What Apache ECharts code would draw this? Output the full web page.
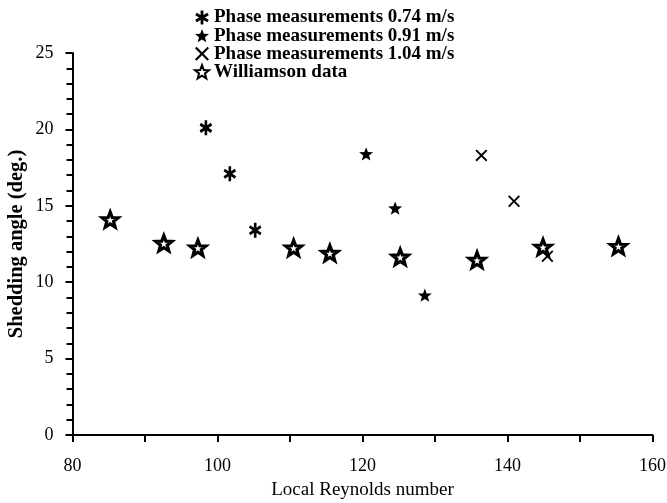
<!DOCTYPE html>
<html>
<head>
<meta charset="utf-8">
<script src="https://cdn.jsdelivr.net/npm/echarts@6/dist/echarts.min.js"></script>
<style>html,body{margin:0;padding:0;background:#fff}#c{width:667px;height:503px}</style>
</head>
<body>
<div id="c"></div>
<script>
// Data
var seriesNames = ['Phase measurements 0.74 m/s', 'Phase measurements 0.91 m/s', 'Phase measurements 1.04 m/s', 'Williamson data'];
var phase074 = [[98.4, 20.1], [101.7, 17.1], [105.2, 13.4]];
var phase091 = [[120.5, 18.4], [124.5, 14.85], [128.6, 9.15]];
var phase104 = [[136.4, 18.3], [140.9, 15.3], [145.5, 11.7]];
var williamson = [[85.2, 14.1], [92.6, 12.55], [97.3, 12.25], [110.5, 12.25], [115.5, 11.9], [125.2, 11.65], [135.8, 11.45], [144.9, 12.3], [155.3, 12.35]];
var xTicks = [80, 100, 120, 140, 160];
var yTicks = [0, 5, 10, 15, 20, 25];

var ASTERISK = 'path://M-2,-10L2,-10L2,10L-2,10Z M7.66,-6.73L9.66,-3.27L-7.66,6.73L-9.66,3.27Z M9.66,3.27L7.66,6.73L-9.66,-3.27L-7.66,-6.73Z';
var STAR = 'path://M0,-10L2.47,-3.4L9.51,-3.09L3.99,1.3L5.88,8.09L0,4.2L-5.88,8.09L-3.99,1.3L-9.51,-3.09L-2.47,-3.4Z';
var CROSS = 'path://M-9,-7L-7,-9L0,-2L7,-9L9,-7L2,0L9,7L7,9L0,2L-7,9L-9,7L-2,0Z';

var font = 'Liberation Serif';
var chart = echarts.init(document.getElementById('c'), null, {renderer: 'canvas'});
chart.setOption({
  animation: false,
  backgroundColor: '#fff',
  textStyle: {fontFamily: font, color: '#000'},
  grid: {left: 72.5, right: 14.5, top: 53, bottom: 68, containLabel: false, outerBoundsMode: 'none'},
  legend: {
    orient: 'vertical', left: 189, top: 3, itemWidth: 14, itemHeight: 14, itemGap: -0.9,
    textStyle: {fontFamily: font, fontSize: 19, fontWeight: 'bold', color: '#000'},
    data: seriesNames
  },
  xAxis: {
    type: 'value', min: 80, max: 160, interval: 20,
    name: 'Local Reynolds number', nameLocation: 'middle', nameGap: 46, nameMoveOverlap: false,
    nameTextStyle: {fontFamily: font, fontSize: 19, color: '#000'},
    axisLine: {onZero: false, lineStyle: {color: '#000', width: 2}},
    axisTick: {show: true, length: 7, lineStyle: {color: '#000', width: 2}},
    minorTick: {show: true, splitNumber: 2, length: 7, lineStyle: {color: '#000', width: 2}},
    axisLabel: {margin: 22, fontFamily: font, fontSize: 18, color: '#000',
      formatter: function (v) { return xTicks.indexOf(v) >= 0 ? String(v) : ''; }},
    splitLine: {show: false}
  },
  yAxis: {
    type: 'value', min: 0, max: 25, interval: 5,
    name: 'Shedding angle (deg.)', nameLocation: 'middle', nameGap: 45, nameRotate: 90, nameMoveOverlap: false,
    nameTextStyle: {fontFamily: font, fontSize: 20.5, fontWeight: 'bold', color: '#000'},
    axisLine: {onZero: false, lineStyle: {color: '#000', width: 2}},
    axisTick: {show: true, length: 7, lineStyle: {color: '#000', width: 2}},
    minorTick: {show: true, splitNumber: 5, length: 6, lineStyle: {color: '#000', width: 2}},
    axisLabel: {margin: 19, fontFamily: font, fontSize: 18, color: '#000',
      formatter: function (v) { return yTicks.indexOf(v) >= 0 ? String(v) : ''; }},
    splitLine: {show: false}
  },
  series: [
    {name: seriesNames[0], type: 'scatter', data: phase074, symbol: ASTERISK, symbolSize: [13, 15], symbolKeepAspect: true,
     itemStyle: {color: '#000', opacity: 1}},
    {name: seriesNames[1], type: 'scatter', data: phase091, symbol: STAR, symbolSize: 14, symbolKeepAspect: true,
     itemStyle: {color: '#000', opacity: 1}},
    {name: seriesNames[2], type: 'scatter', data: phase104, symbol: CROSS, symbolSize: 12, symbolKeepAspect: true,
     itemStyle: {color: '#000', opacity: 1}},
    {name: seriesNames[3], type: 'scatter', data: williamson, symbol: STAR, symbolSize: 16, symbolKeepAspect: true,
     itemStyle: {color: '#fff', borderColor: '#000', borderWidth: 3.2, opacity: 1}}
  ]
});
</script>
</body>
</html>
